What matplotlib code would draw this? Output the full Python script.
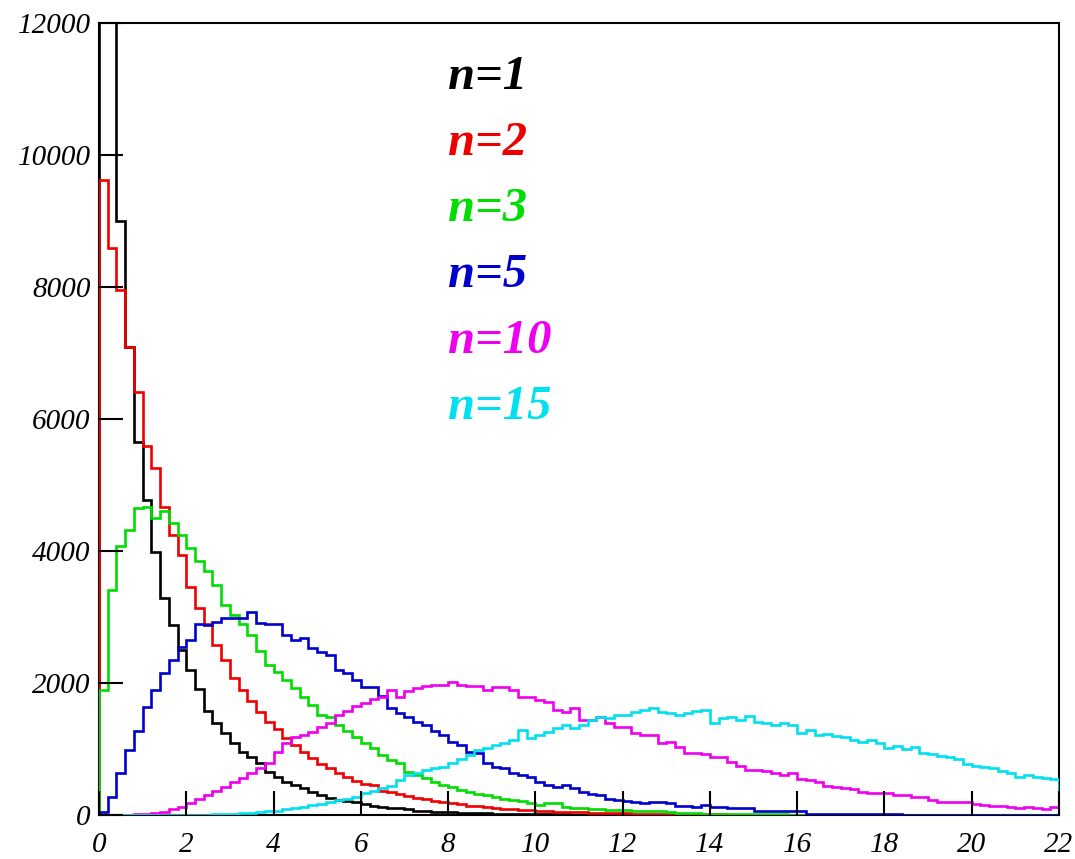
import matplotlib
matplotlib.use('Agg')
import matplotlib.pyplot as plt
import numpy as np

# Histogram counts of chi-square samples, bins of width 0.2 on [0, 22]
x_min, x_max, bin_width = 0.0, 22.0, 0.2

counts_n1 = [
    34500, 12800, 8990, 7090, 5650, 4770, 3990, 3290, 2880, 2500,
    2200, 1910, 1570, 1390, 1240, 1090, 960, 880, 790, 650,
    580, 505, 455, 405, 355, 305, 255, 230, 215, 200,
    165, 130, 120, 110, 100, 85, 66, 60, 52, 45,
    40, 36, 31, 27, 24, 21, 19, 16, 14, 12,
    11, 10, 9, 8, 7, 6, 5, 5, 4, 4,
    3, 3, 3, 2, 2, 2, 2, 1, 1, 1,
    1, 1, 1, 1, 0, 0, 1, 0, 0, 0,
    0, 0, 0, 0, 0, 0, 0, 0, 0, 0,
    0, 0, 0, 0, 0, 0, 0, 0, 0, 0,
    0, 0, 0, 0, 0, 0, 0, 0, 0, 0,
]
counts_n2 = [
    9620, 8590, 7950, 7090, 6400, 5590, 5250, 4670, 4240, 3940,
    3460, 3130, 2890, 2575, 2350, 2070, 1890, 1720, 1565, 1414,
    1300, 1170, 1060, 950, 870, 780, 710, 640, 575, 520,
    470, 455, 360, 350, 320, 285, 255, 240, 210, 190,
    175, 160, 140, 130, 115, 105, 95, 88, 78, 70,
    64, 58, 52, 48, 43, 39, 35, 32, 29, 26,
    24, 21, 19, 17, 16, 14, 13, 12, 11, 10,
    9, 8, 7, 6, 6, 5, 5, 4, 4, 3,
    3, 3, 2, 2, 2, 2, 1, 1, 1, 1,
    1, 1, 1, 1, 0, 1, 0, 0, 0, 0,
    0, 0, 0, 0, 0, 0, 0, 0, 0, 0,
]
counts_n3 = [
    1890, 3410, 4080, 4320, 4650, 4670, 4500, 4610, 4420, 4240,
    4040, 3840, 3700, 3490, 3180, 3030, 2900, 2730, 2480, 2270,
    2170, 2045, 1920, 1790, 1670, 1515, 1490, 1365, 1265, 1185,
    1085, 1010, 910, 835, 785, 655, 605, 555, 505, 455,
    430, 380, 350, 325, 300, 280, 250, 230, 210, 180,
    155, 175, 178, 120, 110, 100, 95, 85, 80, 75,
    70, 65, 55, 60, 60, 45, 35, 30, 25, 22,
    20, 18, 15, 14, 12, 11, 10, 9, 8, 7,
    6, 5, 5, 4, 4, 3, 3, 3, 2, 2,
    2, 1, 1, 1, 1, 1, 1, 0, 0, 0,
    0, 0, 0, 0, 0, 0, 0, 0, 0, 0,
]
counts_n5 = [
    50, 280, 640, 985, 1265, 1630, 1895, 2155, 2350, 2550,
    2650, 2895, 2880, 2930, 2980, 2980, 2985, 3080, 2905, 2895,
    2895, 2725, 2650, 2675, 2525, 2475, 2425, 2195, 2145, 2045,
    1945, 1945, 1795, 1615, 1540, 1490, 1415, 1365, 1265, 1210,
    1110, 1060, 960, 935, 795, 730, 705, 640, 605, 570,
    505, 455, 430, 455, 405, 355, 320, 305, 240, 235,
    210, 190, 175, 200, 200, 175, 135, 135, 125, 150,
    125, 125, 100, 100, 100, 65, 65, 65, 60, 60,
    60, 15, 15, 15, 15, 15, 15, 15, 15, 15,
    15, 15, 0, 0, 0, 0, 0, 0, 0, 0,
    0, 0, 0, 0, 0, 0, 0, 0, 0, 0,
]
counts_n10 = [
    0, 0, 0, 2, 8, 18, 25, 50, 86, 126,
    177, 237, 303, 369, 429, 505, 555, 631, 707, 783,
    960, 1086, 1187, 1212, 1263, 1338, 1389, 1515, 1580, 1650,
    1700, 1760, 1790, 1890, 1780, 1880, 1920, 1950, 1970, 1970,
    2010, 1970, 1960, 1955, 1895, 1945, 1935, 1895, 1785, 1785,
    1740, 1715, 1590, 1565, 1615, 1440, 1440, 1490, 1390, 1340,
    1340, 1235, 1210, 1210, 1085, 1110, 1035, 935, 935, 925,
    875, 875, 810, 740, 680, 680, 665, 630, 605, 630,
    540, 530, 505, 440, 430, 405, 390, 355, 330, 330,
    335, 305, 305, 270, 270, 225, 200, 200, 200, 200,
    165, 150, 135, 135, 115, 100, 125, 100, 85, 115,
]
counts_n15 = [
    0, 0, 0, 0, 0, 0, 0, 0, 0, 0,
    3, 4, 6, 10, 14, 20, 27, 35, 46, 55,
    66, 86, 101, 126, 151, 167, 202, 227, 237, 278,
    328, 369, 404, 439, 530, 606, 631, 682, 707, 732,
    783, 845, 910, 985, 1010, 1061, 1086, 1136, 1288, 1162,
    1212, 1263, 1313, 1364, 1313, 1364, 1439, 1490, 1465, 1515,
    1515, 1566, 1591, 1616, 1566, 1540, 1515, 1540, 1581, 1591,
    1389, 1465, 1490, 1439, 1500, 1414, 1389, 1364, 1389, 1364,
    1247, 1288, 1212, 1227, 1197, 1177, 1136, 1111, 1136, 1096,
    1010, 1045, 995, 1025, 944, 919, 894, 874, 843, 773,
    742, 722, 707, 667, 641, 571, 606, 571, 555, 540,
]

series_labels = ['n=1', 'n=2', 'n=3', 'n=5', 'n=10', 'n=15']
series_counts = [counts_n1, counts_n2, counts_n3, counts_n5, counts_n10, counts_n15]
series_colors = ['#000000', '#ee0000', '#00dd00', '#0000cc', '#ee00ee', '#00e0ee']

x_ticks = np.arange(0, 23, 2)
y_ticks = np.arange(0, 12001, 2000)

edges = np.linspace(x_min, x_max, len(counts_n1) + 1)

fig = plt.figure(figsize=(10.75, 8.59), dpi=100)
ax = fig.add_axes([0.0921, 0.0512, 0.8930, 0.9224])

for counts, color in zip(series_counts, series_colors):
    ax.stairs(counts, edges, color=color, linewidth=1.9, baseline=0)

# labels inside the plot, one per line
for i, (label, color) in enumerate(zip(series_labels, series_colors)):
    ax.text(8.0, 11000 - 1000 * i, label, color=color, fontsize=35,
            family='Liberation Serif', style='italic', fontweight='bold',
            va='baseline', ha='left')

ax.set_xlim(0, 22)
ax.set_ylim(0, 12000)
ax.set_xticks(x_ticks)
ax.set_yticks(y_ticks)
ax.set_xticklabels([str(v) for v in x_ticks])
ax.set_yticklabels([str(v) for v in y_ticks])

ax.tick_params(axis='x', direction='in', length=17, width=1.5, pad=12, labelsize=21)
ax.tick_params(axis='y', direction='in', length=17, width=1.5, pad=6, labelsize=21)
for lbl in ax.get_xticklabels() + ax.get_yticklabels():
    lbl.set_family('Liberation Serif')
    lbl.set_style('italic')

for spine in ax.spines.values():
    spine.set_linewidth(1.5)
    spine.set_zorder(0.5)

fig.savefig('out.png', dpi=100)
